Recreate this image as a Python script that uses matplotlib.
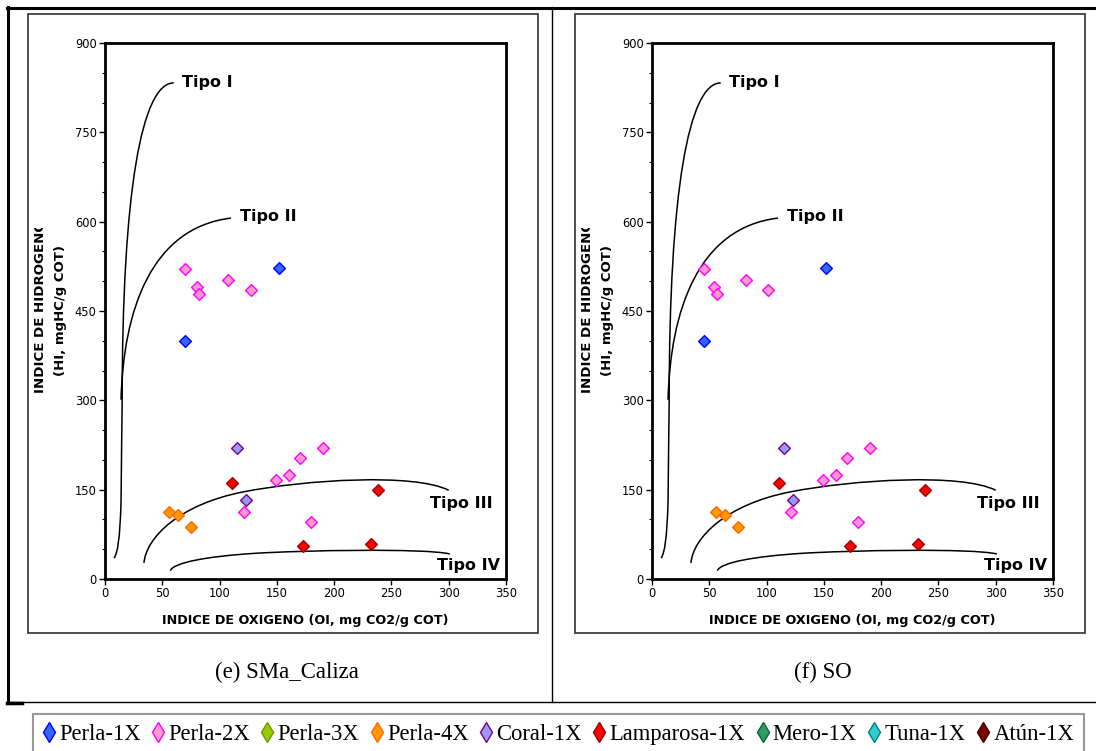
import matplotlib
matplotlib.use("Agg")
import matplotlib.pyplot as plt
from matplotlib.path import Path
from matplotlib.patches import PathPatch, Rectangle
from matplotlib.lines import Line2D
from matplotlib.transforms import Bbox, TransformedBbox

# series names and marker colours (fill, edge)
series = ["Perla-1X", "Perla-2X", "Perla-3X", "Perla-4X", "Coral-1X",
          "Lamparosa-1X", "Mero-1X", "Tuna-1X", "Atún-1X"]
fills = ["#3366FF", "#FF99CC", "#99CC00", "#FF9900", "#9999FF",
         "#FF0000", "#339966", "#33CCCC", "#800000"]
edges = ["#0000FF", "#FF00FF", "#669900", "#FF6600", "#800080",
         "#990000", "#006633", "#008080", "#400000"]

# OI (x) / HI (y) values, panel (e) SMa_Caliza
e_oi = {
    "Perla-1X": [70, 152],
    "Perla-2X": [70, 80, 82, 107, 127, 190, 170, 161, 149, 121, 180],
    "Perla-3X": [],
    "Perla-4X": [56, 64, 75],
    "Coral-1X": [115, 123],
    "Lamparosa-1X": [111, 238, 173, 232],
    "Mero-1X": [],
    "Tuna-1X": [],
    "Atún-1X": [],
}
e_hi = {
    "Perla-1X": [400, 522],
    "Perla-2X": [520, 491, 479, 502, 485, 220, 204, 175, 167, 112, 96],
    "Perla-3X": [],
    "Perla-4X": [112, 108, 87],
    "Coral-1X": [220, 132],
    "Lamparosa-1X": [161, 150, 56, 58],
    "Mero-1X": [],
    "Tuna-1X": [],
    "Atún-1X": [],
}
# panel (f) SO
f_oi = {
    "Perla-1X": [45, 152],
    "Perla-2X": [45, 54, 57, 82, 101, 190, 170, 161, 149, 121, 180],
    "Perla-3X": [],
    "Perla-4X": [56, 64, 75],
    "Coral-1X": [115, 123],
    "Lamparosa-1X": [111, 238, 173, 232],
    "Mero-1X": [],
    "Tuna-1X": [],
    "Atún-1X": [],
}
f_hi = dict(e_hi)

# kerogen type guide curves (cubic bezier control points)
tipo1_x = [8, 11, 13, 14, 14.3, 14.7, 15, 15, 32, 60]
tipo1_y = [35, 45, 65, 130, 190, 250, 300, 650, 833, 833]
tipo2_x = [14, 16, 40, 110]
tipo2_y = [301, 450, 590, 606]
tipo3_x = [34, 36, 65, 120, 175, 270, 300]
tipo3_y = [27, 70, 125, 146, 167, 178, 149]
tipo4_x = [57, 60, 90, 130, 170, 280, 301]
tipo4_y = [14, 28, 38, 43, 48, 52, 42]
tipo_labels = ["Tipo I", "Tipo II", "Tipo III", "Tipo IV"]
tipo_lab_x = [67, 118, 284, 290]
tipo_lab_y = [833, 609, 127, 22]


def bezier(ax, xs, ys):
    codes = [Path.MOVETO] + [Path.CURVE4] * (len(xs) - 1)
    p = Path(list(zip(xs, ys)), codes)
    ax.add_patch(PathPatch(p, facecolor="none", edgecolor="black", lw=1.1))


def panel(ax, oi, hi):
    for name, fc, ec in zip(series, fills, edges):
        ax.scatter(oi[name], hi[name], marker="D", s=36, facecolor=fc,
                   edgecolor=ec, linewidth=1, zorder=3)
    for xs, ys in [(tipo1_x, tipo1_y), (tipo2_x, tipo2_y),
                   (tipo3_x, tipo3_y), (tipo4_x, tipo4_y)]:
        bezier(ax, xs, ys)
    for t, x, y in zip(tipo_labels, tipo_lab_x, tipo_lab_y):
        ax.text(x, y, t, fontsize=11.5, fontweight="bold", ha="left", va="center")
    ax.set_xlim(0, 350)
    ax.set_ylim(0, 900)
    ax.set_xticks(range(0, 351, 50))
    ax.set_yticks(range(0, 901, 150))
    ax.set_yticks(range(0, 901, 50), minor=True)
    ax.tick_params(direction="out", length=4, width=1, labelsize=8.3, pad=2)
    ax.tick_params(which="minor", direction="out", length=2.5, width=0.8)
    for sp in ax.spines.values():
        sp.set_linewidth(2)
    ax.text(0.5, -0.0765, "INDICE DE OXIGENO (OI, mg CO2/g COT)",
            transform=ax.transAxes, ha="center", va="center",
            fontsize=9.2, fontweight="bold")
    # first line of the y title is cut off at the top, as in the source
    t1 = ax.text(-0.161, 0.5075, "INDICE DE HIDROGENO", transform=ax.transAxes,
                 rotation=90, ha="center", va="center", fontsize=9.6,
                 fontweight="bold")
    clip = TransformedBbox(Bbox.from_extents(0, 0, 1, 1 - 228 / 751),
                           fig.transFigure)
    t1.set_clip_box(clip)
    t1.set_clip_on(True)
    ax.text(-0.112, 0.5, "(HI, mgHC/g COT)", transform=ax.transAxes,
            rotation=90, ha="center", va="center", fontsize=9.5,
            fontweight="bold")


fig = plt.figure(figsize=(10.96, 7.51), dpi=100)

ax1 = fig.add_axes([105 / 1096, 1 - 579 / 751, 401 / 1096, 536 / 751])
ax2 = fig.add_axes([652 / 1096, 1 - 579 / 751, 401 / 1096, 536 / 751])
panel(ax1, e_oi, e_hi)
panel(ax2, f_oi, f_hi)

# chart area frames
for x0 in [28, 575]:
    fig.patches.append(Rectangle((x0 / 1096, 1 - 633 / 751), 510 / 1096, 619 / 751,
                                 transform=fig.transFigure, fill=False,
                                 edgecolor="#303030", lw=1.2))

# table lines
fig.add_artist(Line2D([7 / 1096, 1], [1 - 7.5 / 751] * 2, color="black", lw=2.2))
fig.add_artist(Line2D([8 / 1096] * 2, [1 - 7 / 751, 1 - 703 / 751], color="black", lw=2.2))
fig.add_artist(Line2D([551.5 / 1096] * 2, [1 - 7 / 751, 1 - 702 / 751], color="black", lw=1))
fig.add_artist(Line2D([8 / 1096, 1], [1 - 702 / 751] * 2, color="black", lw=1))
fig.add_artist(Line2D([7 / 1096, 22 / 1096], [1 - 703 / 751] * 2, color="black", lw=2.5))

# captions
fig.text(287 / 1096, 1 - 672 / 751, "(e) SMa_Caliza", ha="center", va="center",
         family="Liberation Serif", fontsize=16.5)
fig.text(823 / 1096, 1 - 672 / 751, "(f) SO", ha="center", va="center",
         family="Liberation Serif", fontsize=16.5)

# legend
handles = [Line2D([], [], marker="d", ls="none", markersize=10, markerfacecolor=fc,
                  markeredgecolor=ec, markeredgewidth=1)
           for fc, ec in zip(fills, edges)]
leg = fig.legend(handles, series, loc="upper left",
                 bbox_to_anchor=(33 / 1096, 1 - 714 / 751), ncol=9,
                 prop={"family": "Liberation Serif", "size": 16.3},
                 handlelength=0.5, handletextpad=0.2, columnspacing=0.52,
                 borderpad=0.45, borderaxespad=0, frameon=True, fancybox=False)
leg.get_frame().set_edgecolor("#808080")
leg.get_frame().set_linewidth(1.5)

fig.savefig("out.png", dpi=100)
